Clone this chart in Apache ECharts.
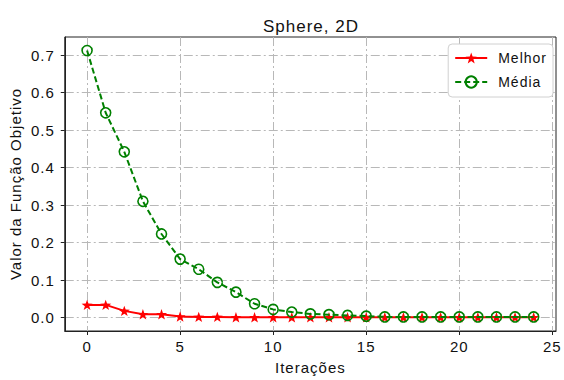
<!DOCTYPE html>
<html>
<head>
<meta charset="utf-8">
<script src="https://cdn.jsdelivr.net/npm/echarts@6/dist/echarts.min.js"></script>
<style>
  html, body { margin: 0; padding: 0; background: #fff; }
  #chart { width: 564px; height: 380px; }
  /* slightly open tracking for all chart text */
  #chart svg text { letter-spacing: 1px; }
</style>
</head>
<body>
<div id="chart"></div>
<script>
// Iteration index and per-iteration fitness (best and mean of population)
const iterations = [0,1,2,3,4,5,6,7,8,9,10,11,12,13,14,15,16,17,18,19,20,21,22,23,24];
const melhor = [0.034,0.034,0.018,0.009,0.009,0.003,0.002,0.002,0.001,0.001,0.001,0.001,0.001,0.001,0.001,0.001,0.001,0.001,0.001,0.001,0.001,0.001,0.001,0.001,0.001];
const media  = [0.712,0.546,0.442,0.310,0.223,0.156,0.129,0.094,0.068,0.037,0.022,0.015,0.010,0.008,0.006,0.004,0.002,0.002,0.002,0.002,0.002,0.002,0.002,0.002,0.002];
const xTicks = [0,5,10,15,20,25];
const yTicks = [0,0.1,0.2,0.3,0.4,0.5,0.6,0.7];

const FONT = 'Liberation Sans';
const STAR = 'path://M50,0 L61.76,33.82 L97.55,34.55 L69.02,56.18 L79.39,90.45 L50,70 L20.61,90.45 L30.98,56.18 L2.45,34.55 L38.24,33.82 Z';
const gridLine = { color: '#b8b8b8', width: 1, type: [9, 3, 2, 3] };

const chart = echarts.init(document.getElementById('chart'), null, { renderer: 'svg' });
chart.setOption({
  animation: false,
  title: {
    text: 'Sphere, 2D', left: 306, top: 13, textAlign: 'center',
    textStyle: { fontFamily: FONT, fontSize: 17, fontWeight: 'normal', color: '#111' }
  },
  legend: {
    right: 11, top: 44, orient: 'vertical', itemGap: 10, itemWidth: 32, itemHeight: 14,
    padding: [7, 12, 8, 6], borderColor: '#d0d0d0', borderWidth: 1, borderRadius: 4,
    backgroundColor: '#fff',
    textStyle: { fontFamily: FONT, fontSize: 14, color: '#111', padding: [0, 0, 0, 6] },
    data: ['Melhor', 'Média']
  },
  grid: {
    left: 64, right: 8, top: 37, bottom: 48,
    show: true, borderColor: '#222', borderWidth: 1
  },
  xAxis: {
    type: 'value', min: -1.2, max: 25.2,
    name: 'Iterações', nameLocation: 'middle', nameGap: 29,
    nameTextStyle: { fontFamily: FONT, fontSize: 15, color: '#111' },
    axisLine: { show: true, onZero: false, lineStyle: { color: '#222' } },
    axisTick: { show: true, length: 4, customValues: xTicks, lineStyle: { color: '#222' } },
    axisLabel: { customValues: xTicks, fontFamily: FONT, fontSize: 15, color: '#111', margin: 8 },
    splitLine: { show: true, lineStyle: gridLine }
  },
  yAxis: {
    type: 'value', min: -0.0356, max: 0.748,
    name: 'Valor da Função Objetivo', nameLocation: 'middle', nameGap: 38,
    nameTextStyle: { fontFamily: FONT, fontSize: 15, color: '#111' },
    axisLine: { show: true, onZero: false, lineStyle: { color: '#222' } },
    axisTick: { show: true, length: 4, customValues: yTicks, lineStyle: { color: '#222' } },
    axisLabel: {
      customValues: yTicks, fontFamily: FONT, fontSize: 15, color: '#111', margin: 10,
      formatter: v => v.toFixed(1)
    },
    splitLine: { show: true, lineStyle: gridLine }
  },
  series: [
    {
      name: 'Melhor', type: 'line',
      data: iterations.map((x, i) => [x, melhor[i]]),
      symbol: STAR, symbolSize: 11, symbolKeepAspect: true,
      lineStyle: { color: '#ff0000', width: 2 },
      itemStyle: { color: '#ff0000' },
      z: 2
    },
    {
      name: 'Média', type: 'line',
      data: iterations.map((x, i) => [x, media[i]]),
      symbol: 'circle', symbolSize: 10,
      lineStyle: { color: '#008000', width: 2, type: [6, 3] },
      itemStyle: { color: 'rgba(0,0,0,0)', borderColor: '#008000', borderWidth: 1.6 },
      z: 3
    }
  ]
});
</script>
</body>
</html>
